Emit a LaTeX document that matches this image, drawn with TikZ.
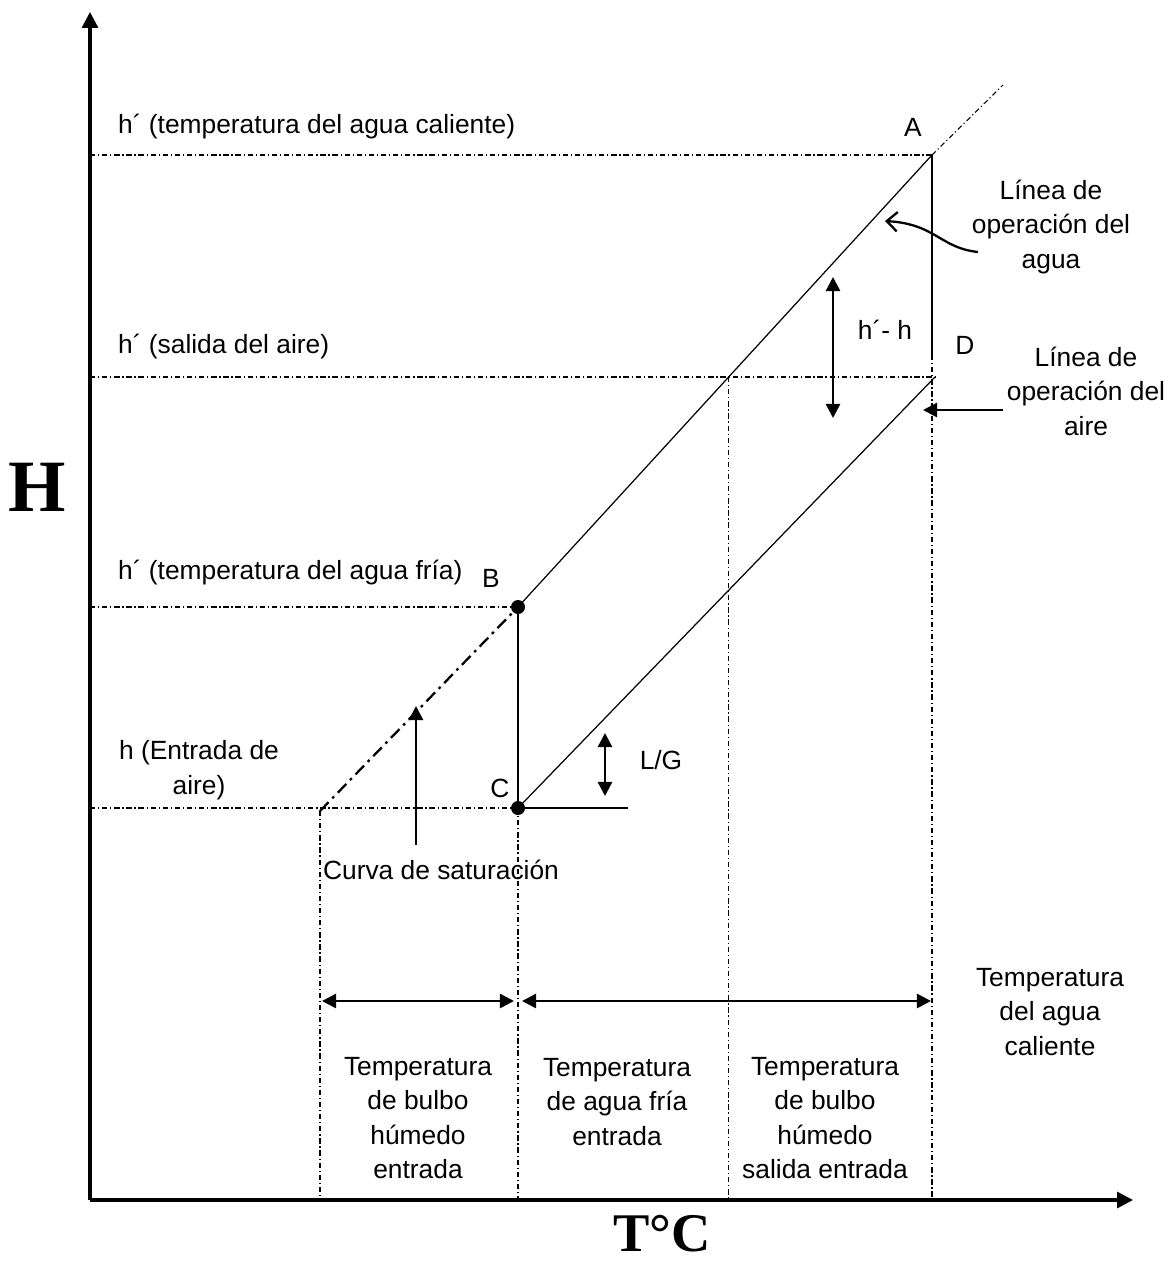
\documentclass[tikz,border=0pt]{standalone}
\usepackage{fontspec}
\setmainfont{Liberation Sans}
\newfontfamily\serifbold{Liberation Serif}
\usetikzlibrary{arrows.meta,calc}

\tikzset{
  guide/.style={line width=0.6pt, dash pattern=on 3pt off 1.6pt on 0.7pt off 1.6pt},
  satline/.style={line width=1.3pt, dash pattern=on 7pt off 3pt on 1.5pt off 3pt},
  opline/.style={line width=0.7pt},
  heavy/.style={line width=1.5pt},
  axis/.style={line width=1.8pt, -{Triangle[length=9pt,width=9pt]}},
  pointer/.style={line width=1.4pt, -{Triangle[length=8pt,width=8pt]}},
  span/.style={line width=1.4pt, {Triangle[length=8pt,width=8pt]}-{Triangle[length=8pt,width=8pt]}},
  lbl/.style={font=\fontsize{15}{19.6}\selectfont},
  block/.style={lbl, align=center},
  big/.style={font=\serifbold\bfseries\fontsize{42}{42}\selectfont}
}

\begin{document}
\begin{tikzpicture}[x=0.02cm, y=-0.02cm]
  \useasboundingbox (0,0) rectangle (1173,1264);

  % points of the diagram
  \coordinate (O) at (90,1200);
  \coordinate (ytop) at (90,12);
  \coordinate (xend) at (1133,1200);
  \coordinate (A) at (932,155);
  \coordinate (Aext) at (1003,85);
  \coordinate (B) at (518,607);
  \coordinate (C) at (518,808);
  \coordinate (Cend) at (628,808);
  \coordinate (D) at (932,355);
  \coordinate (E) at (935,377);
  \coordinate (S) at (320,811);
  \coordinate (W) at ($(B)!{(607-377)/(607-155)}!(A)$);

  % axes
  \draw[axis] (O) -- (ytop);
  \draw[axis] (O) -- (xend);

  % guide lines
  \draw[guide] (O |- A) -- (A);
  \draw[guide] (O |- E) -- (E);
  \draw[guide] (O |- B) -- (B);
  \draw[guide] (O |- C) -- (C);
  \draw[guide] (A) -- (Aext);
  \draw[guide] (S) -- (S |- O);
  \draw[guide] (C) -- (C |- O);
  \draw[guide] (W) -- (W |- O);
  \draw[guide] (D) -- (D |- O);

  % operating lines
  \draw[satline] (S) -- (B);
  \draw[opline] (B) -- (A);
  \draw[opline] (C) -- (E);
  \draw[heavy] (A) -- (D);
  \draw[heavy] (B) -- (C);
  \draw[heavy] (C) -- (Cend);
  \fill (B) circle (0.14cm);
  \fill (C) circle (0.14cm);

  % arrows
  \coordinate (hh1) at (833,277);
  \coordinate (hh2) at (833,418);
  \draw[span] (hh1) -- (hh2);
  \coordinate (lg1) at (605,733);
  \coordinate (lg2) at (605,796);
  \draw[span] (lg1) -- (lg2);
  \coordinate (sat0) at (416,845);
  \coordinate (sat1) at (416,706);
  \draw[pointer] (sat0) -- (sat1);
  \coordinate (air0) at (1003,410);
  \coordinate (air1) at (923,410);
  \draw[pointer] (air0) -- (air1);
  \coordinate (wat0) at (978,252);
  \coordinate (wat1) at (885,221);
  \draw[line width=1.3pt, -{Straight Barb[length=6pt,width=11pt]}]
    (wat0) .. controls (940,248) and (936,224) .. (wat1);
  \coordinate (sp1) at (322,1001);
  \coordinate (sp2) at (514,1001);
  \coordinate (sp3) at (522,1001);
  \coordinate (sp4) at (931,1001);
  \draw[span] (sp1) -- (sp2);
  \draw[span] (sp3) -- (sp4);

  % labels
  \node[lbl, anchor=west] (hcal) at (112,127) {h´ (temperatura del agua caliente)};
  \node[lbl, anchor=west] (hsal) at (112,347) {h´ (salida del aire)};
  \node[lbl, anchor=west] (hfri) at (112,573) {h´ (temperatura del agua fría)};
  \node[block] (hent) at (199,770) {h (Entrada de\\aire)};
  \node[lbl] (lA) at (913,127) {A};
  \node[lbl] (lB) at (491,578) {B};
  \node[lbl] (lC) at (500,788) {C};
  \node[lbl] (lD) at (965,345) {D};
  \node[lbl] (lhh) at (885,330) {h´- h};
  \node[lbl] (llg) at (661,760) {L/G};
  \node[lbl] (lsat) at (441,870) {Curva de saturación};
  \node[block] (lwat) at (1051,227) {Línea de\\operación del\\agua};
  \node[block] (lair) at (1086,391) {Línea de\\operación del\\aire};
  \node[block] (tcal) at (1050,1012) {Temperatura\\del agua\\caliente};
  \node[block] (tbh) at (418,1118) {Temperatura\\de bulbo\\húmedo\\entrada};
  \node[block] (tfri) at (617,1102) {Temperatura\\de agua fría\\entrada};
  \node[block] (tbs) at (825,1118) {Temperatura\\de bulbo\\húmedo\\salida entrada};
  \node[big] (Hlbl) at (37,487) {H};
  \node[big, inner sep=0pt, font=\serifbold\bfseries\fontsize{31}{31}\selectfont] (Tlbl) at (662,1234) {T°C};
\end{tikzpicture}
\end{document}
